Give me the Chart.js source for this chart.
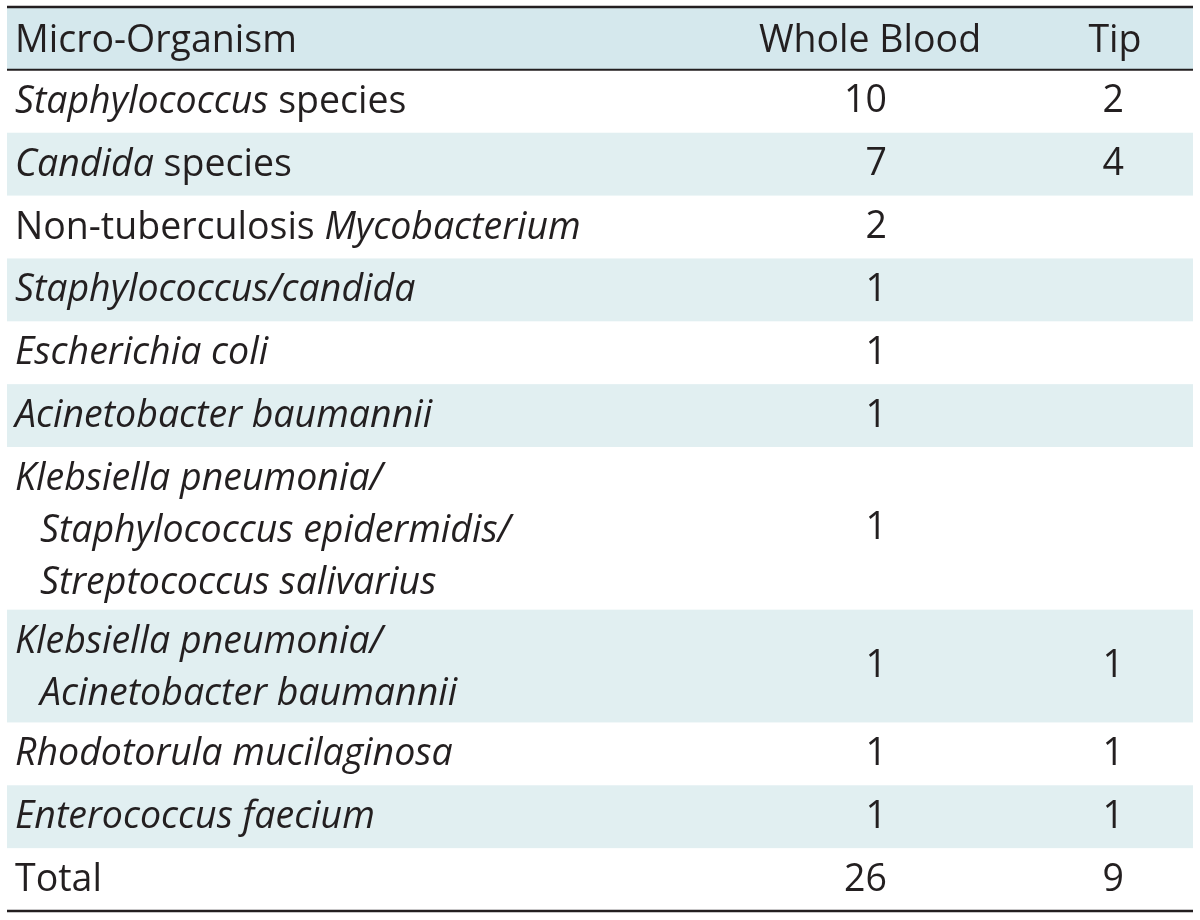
<!DOCTYPE html>
<html lang="en">
<head>
    <meta charset="UTF-8">
    <title>Micro-Organism culture table</title>
    <script src="https://cdn.jsdelivr.net/npm/chart.js"></script>
    <style>
        html, body { margin: 0; padding: 0; background: #ffffff; }
        #wrap { width: 1200px; height: 920px; position: relative; }
    </style>
</head>
<body>
    <div id="wrap"><canvas id="tableChart"></canvas></div>

    <script>
        // Table content (asterisks mark italic text, \n marks a line break)
        const headerLabels = ['Micro-Organism', 'Whole Blood', 'Tip'];
        const organisms = [
            '*Staphylococcus* species',
            '*Candida* species',
            'Non-tuberculosis *Mycobacterium*',
            '*Staphylococcus/candida*',
            '*Escherichia coli*',
            '*Acinetobacter baumannii*',
            '*Klebsiella pneumonia/*\n*Staphylococcus epidermidis/*\n*Streptococcus salivarius*',
            '*Klebsiella pneumonia/*\n*Acinetobacter baumannii*',
            '*Rhodotorula mucilaginosa*',
            '*Enterococcus faecium*'
        ];
        const wholeBlood = [10, 7, 2, 1, 1, 1, 1, 1, 1, 1];
        const tip = [2, 4, null, null, null, null, null, 1, 1, 1];
        const totalLabel = 'Total';
        const totals = [26, 9];

        // Styling
        const FONT = '"Open Sans", "Noto Sans", sans-serif';
        const FONT_SIZE = 37.5;
        const TEXT_COLOR = '#231f20';
        const HEADER_BG = '#d5e8ed';
        const STRIPE_BG = '#e1eff1';
        const ROW_UNIT = 63;     // height of a one-line row
        const EXTRA_LINE = 50;   // added per extra text line
        const LINE_GAP = 52;     // baseline spacing inside a cell

        // Build row list: header, organisms, total
        const rows = [{ label: headerLabels[0], header: true }];
        organisms.forEach((name, i) => rows.push({ label: name, wb: wholeBlood[i], tip: tip[i], striped: i % 2 === 1 }));
        rows.push({ label: totalLabel, wb: totals[0], tip: totals[1] });

        let acc = 0;
        rows.forEach(r => {
            r.lines = r.label.split('\n');
            r.top = acc;
            r.height = ROW_UNIT + EXTRA_LINE * (r.lines.length - 1);
            acc += r.height;
            r.bottom = acc;
            r.mid = (r.top + r.bottom) / 2;
        });
        const tableHeight = acc;
        const tableWidth = 1186;
        const colName = 8, colWB = 880, colTip = 1117; // column anchors in table units
        const colWBHead = 863, colTipHead = 1108;

        const bodyRows = rows.slice(1);
        const wbPoints = bodyRows.map(r => ({ x: colWB, y: r.mid, v: r.wb }));
        const tipPoints = bodyRows.map(r => ({ x: colTip, y: r.mid, v: r.tip }));

        function drawRich(ctx, text, x, y) {
            const parts = text.split('*');
            let cx = x;
            parts.forEach((p, i) => {
                if (!p) return;
                ctx.font = (i % 2 === 1 ? 'italic ' : '') + FONT_SIZE + 'px ' + FONT;
                ctx.fillText(p, cx, y);
                cx += ctx.measureText(p).width;
            });
        }

        const tablePlugin = {
            id: 'tablePlugin',
            beforeDatasetsDraw(chart) {
                const { ctx, scales: { x, y } } = chart;
                const left = x.getPixelForValue(0), right = x.getPixelForValue(tableWidth);
                ctx.save();
                rows.forEach(r => {
                    const bg = r.header ? HEADER_BG : (r.striped ? STRIPE_BG : null);
                    if (!bg) return;
                    const t = y.getPixelForValue(r.top), b = y.getPixelForValue(r.bottom);
                    ctx.fillStyle = bg;
                    ctx.fillRect(left, t, right - left, b - t);
                });
                // rules
                ctx.strokeStyle = TEXT_COLOR;
                const rule = (val, w) => {
                    const py = y.getPixelForValue(val);
                    ctx.lineWidth = w;
                    ctx.beginPath();
                    ctx.moveTo(left, py);
                    ctx.lineTo(right, py);
                    ctx.stroke();
                };
                rule(0, 2.5);
                rule(rows[0].bottom, 2);
                rule(tableHeight, 2.5);
                ctx.restore();
            },
            afterDatasetsDraw(chart) {
                const { ctx, scales: { x, y } } = chart;
                ctx.save();
                ctx.fillStyle = TEXT_COLOR;
                ctx.textBaseline = 'alphabetic';
                // header
                const h = rows[0];
                const hy = y.getPixelForValue(h.top) + 45;
                ctx.textAlign = 'left';
                drawRich(ctx, h.label, x.getPixelForValue(colName), hy);
                ctx.textAlign = 'center';
                ctx.font = FONT_SIZE + 'px ' + FONT;
                ctx.fillText(headerLabels[1], x.getPixelForValue(colWBHead), hy);
                ctx.fillText(headerLabels[2], x.getPixelForValue(colTipHead), hy);
                // organism names
                ctx.textAlign = 'left';
                bodyRows.forEach(r => {
                    const top = y.getPixelForValue(r.top);
                    r.lines.forEach((line, li) => {
                        const indent = li > 0 ? 25 : 0;
                        drawRich(ctx, line, x.getPixelForValue(colName) + indent, top + 43 + li * LINE_GAP);
                    });
                });
                // counts from the dataset elements
                ctx.textAlign = 'right';
                ctx.font = FONT_SIZE + 'px ' + FONT;
                chart.data.datasets.forEach((ds, di) => {
                    const meta = chart.getDatasetMeta(di);
                    meta.data.forEach((pt, i) => {
                        const v = ds.data[i].v;
                        if (v === null || v === undefined) return;
                        ctx.fillText(String(v), pt.x, pt.y + 11);
                    });
                });
                ctx.restore();
            }
        };

        new Chart(document.getElementById('tableChart'), {
            type: 'scatter',
            data: {
                datasets: [
                    { label: headerLabels[1], data: wbPoints, pointRadius: 0 },
                    { label: headerLabels[2], data: tipPoints, pointRadius: 0 }
                ]
            },
            options: {
                responsive: true,
                maintainAspectRatio: false,
                animation: false,
                layout: { padding: { left: 7, right: 7, top: 7, bottom: 9 } },
                scales: {
                    x: { type: 'linear', min: 0, max: tableWidth, display: false },
                    y: { type: 'linear', min: 0, max: tableHeight, reverse: true, display: false }
                },
                plugins: { legend: { display: false }, tooltip: { enabled: false } }
            },
            plugins: [tablePlugin]
        });
    </script>
</body>
</html>
